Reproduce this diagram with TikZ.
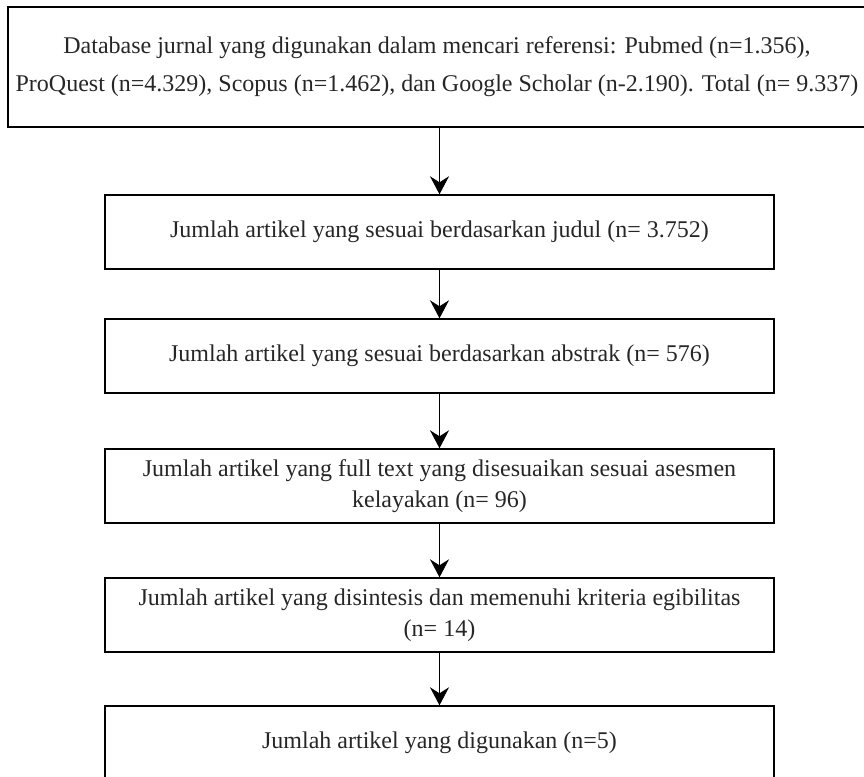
\documentclass[tikz,border=0pt]{standalone}
\usepackage{fontspec}
\setmainfont{Liberation Serif}
\usetikzlibrary{arrows.meta}
\begin{document}
\begin{tikzpicture}[x=1pt, y=-1pt,
    every node/.style={font=\fontsize{24}{31}\selectfont, text=black!85},
    tahap/.style={draw, line width=1.4pt, minimum width=669pt, minimum height=74pt, align=center, inner sep=0pt},
    panah/.style={-{Stealth[length=18pt, width=19pt, inset=6pt]}, line width=1.3pt}]
      \useasboundingbox (0,0) rectangle (864,776);
      \node[tahap, minimum width=858pt, minimum height=120pt, font=\fontsize{24}{38}\selectfont] (db) at (437,67)
        {Database jurnal yang digunakan dalam mencari referensi: Pubmed (n=1.356),\\
         ProQuest (n=4.329), Scopus (n=1.462), dan Google Scholar (n-2.190). Total (n= 9.337)};
      \node[tahap] (judul) at (439.5,232) {Jumlah artikel yang sesuai berdasarkan judul (n= 3.752)};
      \node[tahap] (abstrak) at (439.5,356) {Jumlah artikel yang sesuai berdasarkan abstrak (n= 576)};
      \node[tahap] (fulltext) at (439.5,486) {Jumlah artikel yang full text yang disesuaikan sesuai asesmen\\ kelayakan (n= 96)};
      \node[tahap] (sintesis) at (439.5,615) {Jumlah artikel yang disintesis dan memenuhi kriteria egibilitas\\ (n= 14)};
      \node[tahap] (akhir) at (439.5,743) {Jumlah artikel yang digunakan (n=5)};
      \draw[panah] (judul.north |- db.south) -- (judul.north);
      \draw[panah] (judul) -- (abstrak);
      \draw[panah] (abstrak) -- (fulltext);
      \draw[panah] (fulltext) -- (sintesis);
      \draw[panah] (sintesis) -- (akhir);
    \end{tikzpicture}
\end{document}
